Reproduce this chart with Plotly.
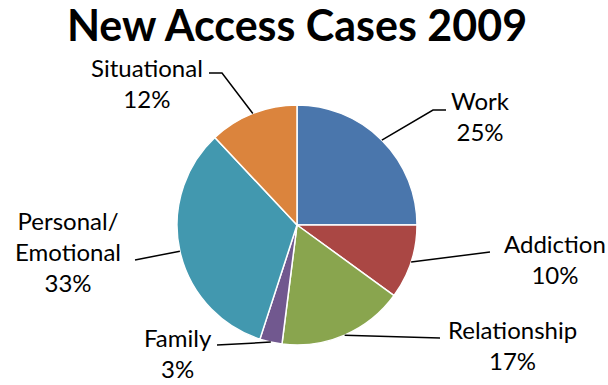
import math
import plotly.graph_objects as go

categories = ["Work", "Addiction", "Relationship", "Family", "Personal/<br>Emotional", "Situational"]
values = [25, 10, 17, 3, 33, 12]
colors = ["#4A76AC", "#AA4744", "#89A54E", "#71588F", "#4298AF", "#DB843D"]

W, H = 608, 385
CX, CY, R = 297, 225, 120

# label layout (pixels): text block center, optional elbow point, line end
label_layout = [
    dict(tx=480, ty=116, elbow=(433, 110), end=(446, 110)),
    dict(tx=555, ty=259, elbow=None, end=(490, 252)),
    dict(tx=512, ty=345, elbow=None, end=(440, 338)),
    dict(tx=178, ty=353, elbow=None, end=(217, 345)),
    dict(tx=68, ty=251, elbow=None, end=(135, 260)),
    dict(tx=147, ty=83, elbow=(222, 73), end=(209, 73)),
]

def px(x):
    return x / W

def py(y):
    return 1 - y / H

fig = go.Figure()
fig.add_trace(go.Pie(
    labels=categories, values=values, sort=False, direction="clockwise", rotation=0,
    marker=dict(colors=colors, line=dict(color="white", width=1.5)),
    textinfo="none", hoverinfo="label+percent",
    domain=dict(x=[px(CX - R), px(CX + R)], y=[py(CY + R), py(CY - R)]),
    showlegend=False,
))

total = sum(values)
cum = 0
shapes = []
annotations = []
for cat, v, lay in zip(categories, values, label_layout):
    mid = (cum + v / 2) / total * 2 * math.pi
    cum += v
    ex = CX + R * math.sin(mid)
    ey = CY - R * math.cos(mid)
    pts = [(ex, ey)]
    if lay["elbow"]:
        pts.append(lay["elbow"])
    pts.append(lay["end"])
    path = "M " + " L ".join(f"{px(a)},{py(b)}" for a, b in pts)
    shapes.append(dict(type="path", xref="paper", yref="paper", path=path,
                       line=dict(color="black", width=1.5)))
    pct = round(v / total * 100)
    annotations.append(dict(
        x=px(lay["tx"]), y=py(lay["ty"]), xref="paper", yref="paper",
        xanchor="center", yanchor="middle", borderpad=0,
        text=f"{cat}<br>{pct}%", showarrow=False, align="center",
        font=dict(family="Lato", size=24, color="black"),
    ))

fig.update_layout(
    width=W, height=H,
    margin=dict(l=0, r=0, t=0, b=0),
    paper_bgcolor="white", plot_bgcolor="white",
    title=dict(text="<b>New Access Cases 2009</b>", x=px(CX), xanchor="center",
               y=py(26), yanchor="middle",
               font=dict(family="Lato", size=43, color="black")),
    shapes=shapes,
    annotations=annotations,
)

fig.write_html("out.html")
